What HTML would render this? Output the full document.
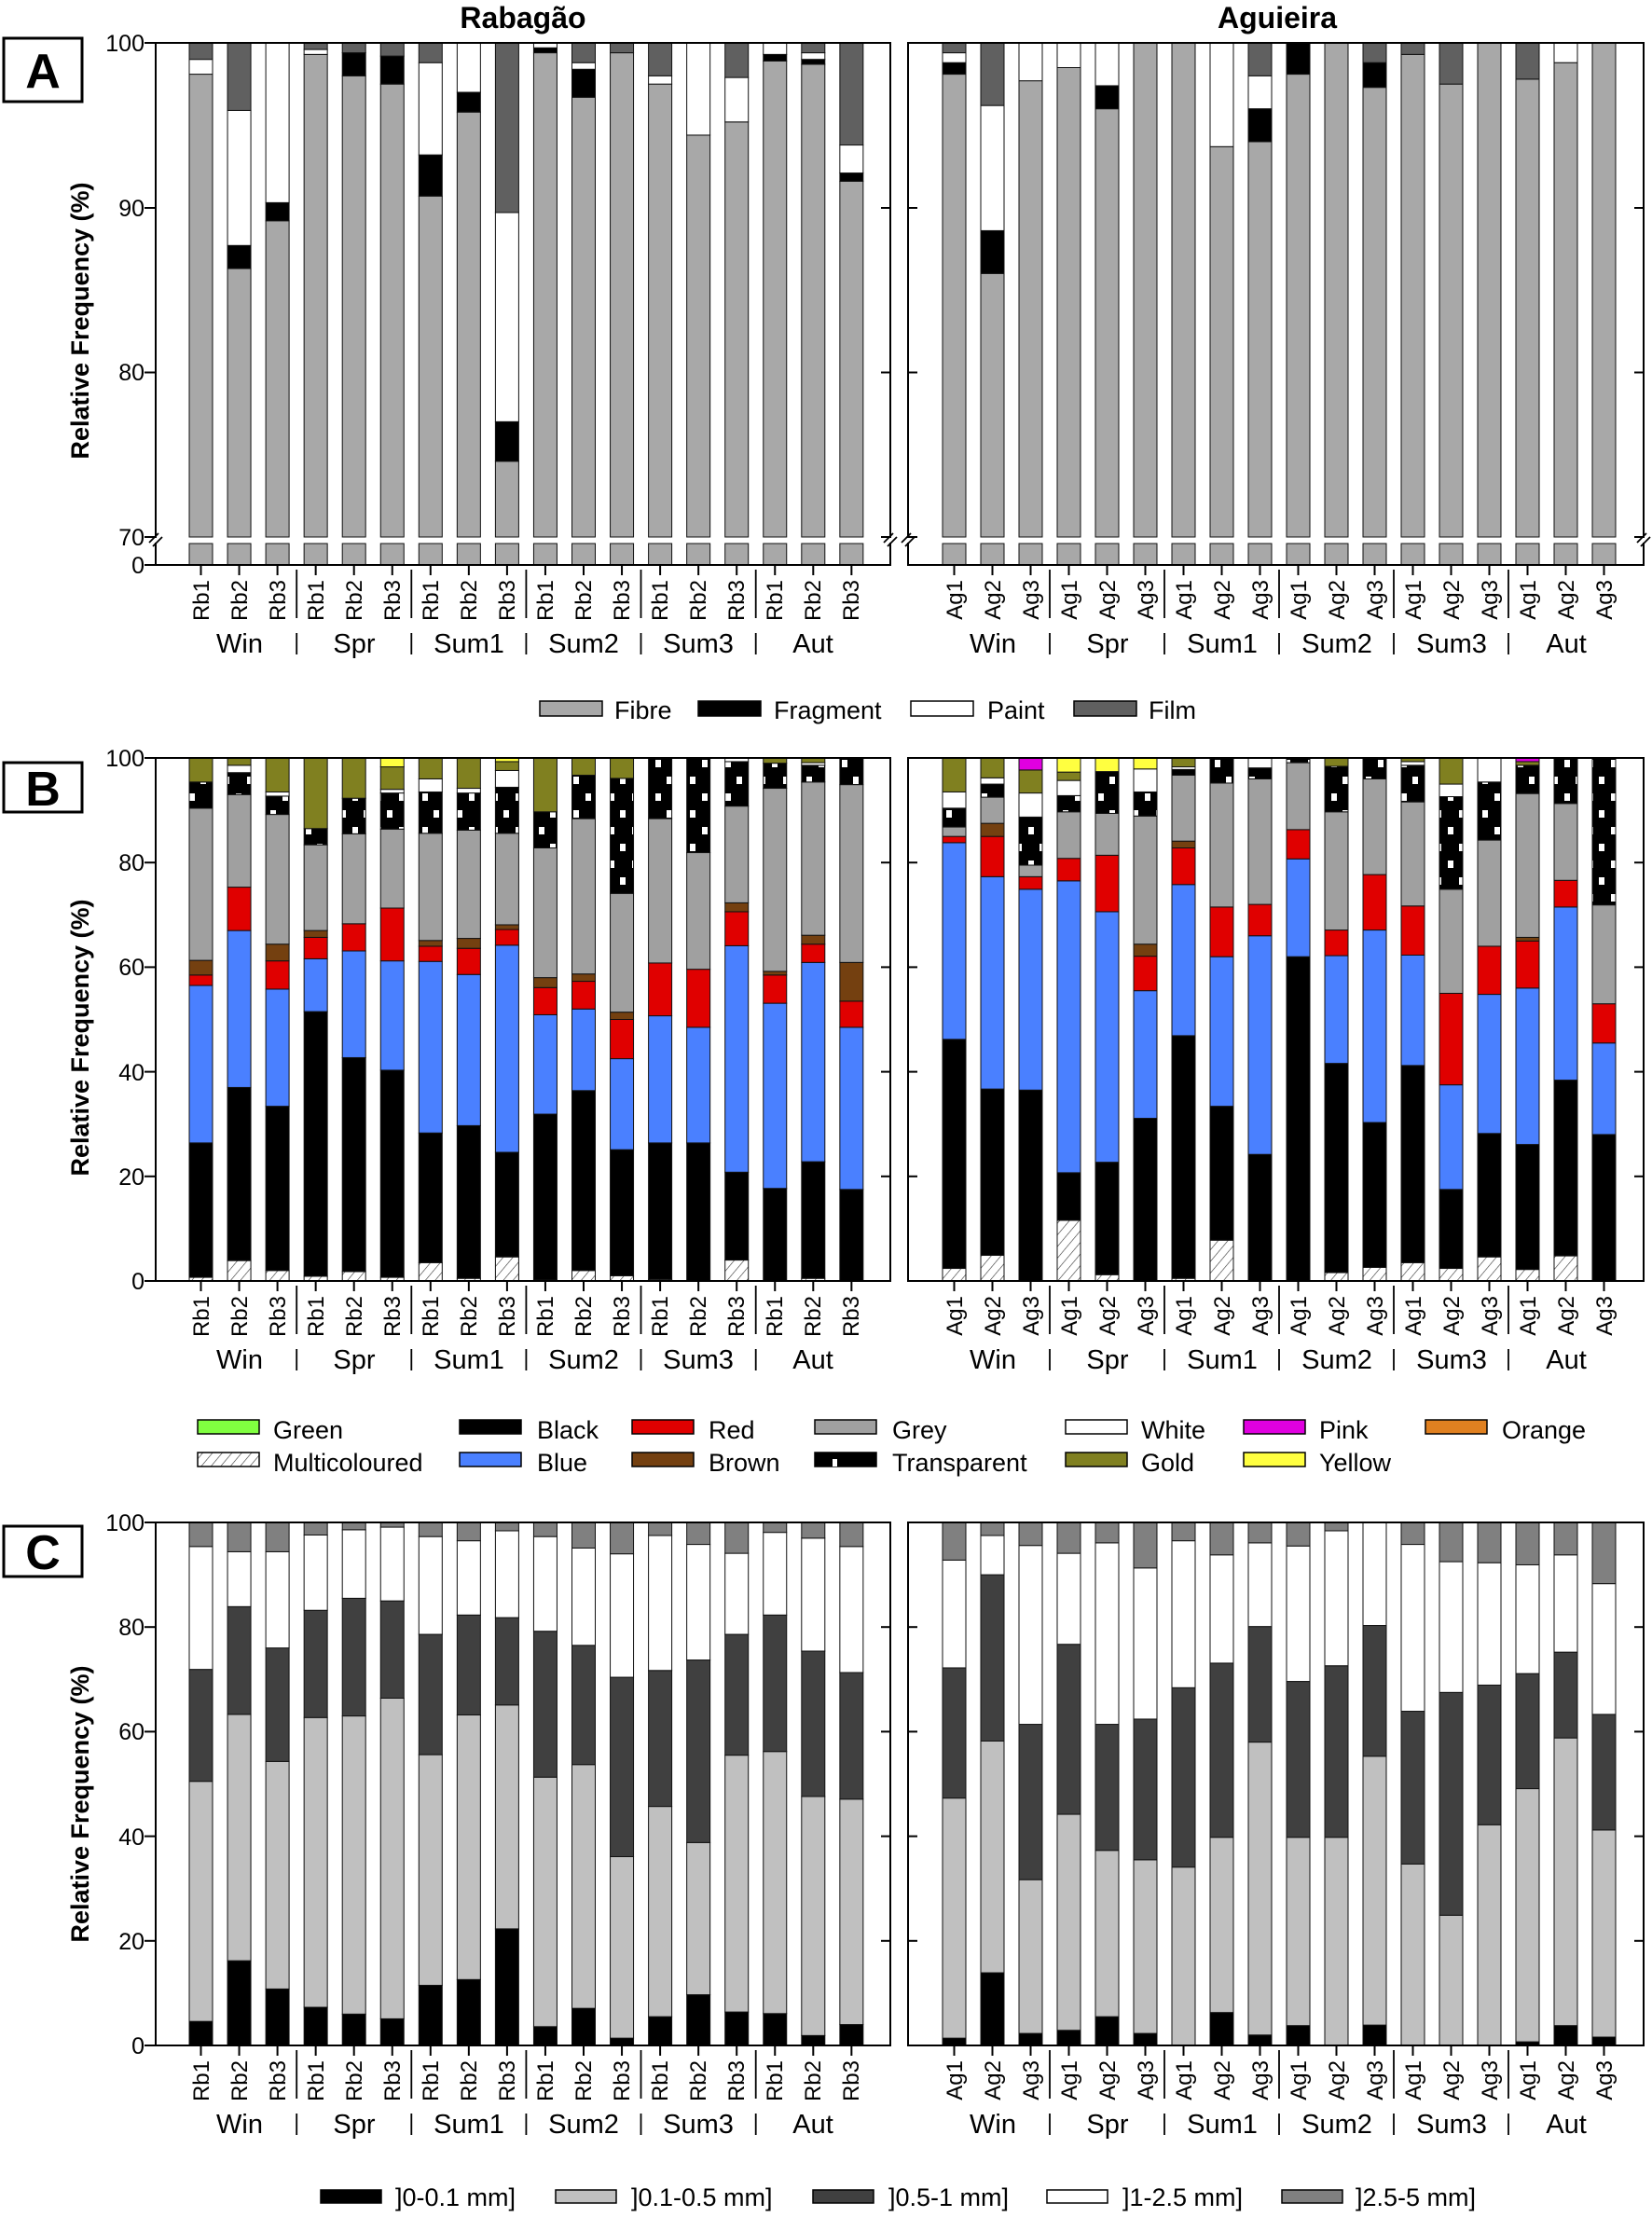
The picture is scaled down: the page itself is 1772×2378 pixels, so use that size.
<!DOCTYPE html>
<html><head><meta charset="utf-8"><style>
html,body{margin:0;padding:0;background:#fff}
svg{display:block}
text{font-family:"Liberation Sans",Arial,sans-serif;fill:#000}
.xl{font-size:24px}
.gl{font-size:29px}
.yt{font-size:25px}
.lg{font-size:27px}
.tt{font-size:32px;font-weight:bold}
.yl{font-size:27px;font-weight:bold}
.pl{font-size:52px;font-weight:bold}
</style></head><body>
<svg id="s" xmlns="http://www.w3.org/2000/svg" width="1772" height="2378" viewBox="0 0 1772 2378">
<defs>
<pattern id="tp" patternUnits="userSpaceOnUse" width="25" height="36" x="0" y="0">
<rect width="25" height="36" fill="#000"/>
<rect x="15" y="5" width="6" height="8" fill="#fff"/>
<rect x="3" y="23" width="6" height="8" fill="#fff"/>
</pattern>
<pattern id="hp" patternUnits="userSpaceOnUse" width="8" height="8" patternTransform="rotate(40)">
<rect width="8" height="8" fill="#fff"/>
<line x1="0" y1="0" x2="0" y2="8" stroke="#333" stroke-width="1.2"/>
</pattern>
</defs>
<g id="bars"></g>
<g id="frames" fill="none" stroke="#000" stroke-width="2"></g>

<!-- titles -->
<text class="tt" x="561" y="30" text-anchor="middle">Rabagão</text>
<text class="tt" x="1370" y="30" text-anchor="middle">Aguieira</text>

<!-- panel letters -->
<rect x="4" y="41" width="84" height="68" fill="#fff" stroke="#000" stroke-width="3"/>
<text class="pl" x="46" y="94" text-anchor="middle">A</text>
<rect x="4" y="818" width="84" height="53" fill="#fff" stroke="#000" stroke-width="3"/>
<text class="pl" x="46" y="864" text-anchor="middle">B</text>
<rect x="4" y="1637" width="84" height="54" fill="#fff" stroke="#000" stroke-width="3"/>
<text class="pl" x="46" y="1683" text-anchor="middle">C</text>

<!-- y titles -->
<text class="yl" transform="translate(95,344) rotate(-90)" text-anchor="middle">Relative Frequency (%)</text>
<text class="yl" transform="translate(95,1113) rotate(-90)" text-anchor="middle">Relative Frequency (%)</text>
<text class="yl" transform="translate(95,1935) rotate(-90)" text-anchor="middle">Relative Frequency (%)</text>

<!-- y tick labels A -->
<g class="yt" text-anchor="end">
<text x="155" y="55">100</text><text x="155" y="232">90</text><text x="155" y="408">80</text><text x="155" y="585">70</text><text x="155" y="615">0</text>
</g>
<!-- y tick labels B -->
<g class="yt" text-anchor="end">
<text x="155" y="822">100</text><text x="155" y="934">80</text><text x="155" y="1046">60</text><text x="155" y="1159">40</text><text x="155" y="1271">20</text><text x="155" y="1383">0</text>
</g>
<!-- y tick labels C -->
<g class="yt" text-anchor="end">
<text x="155" y="1642">100</text><text x="155" y="1754">80</text><text x="155" y="1866">60</text><text x="155" y="1979">40</text><text x="155" y="2091">20</text><text x="155" y="2203">0</text>
</g>

<!-- x labels panel A (bottom 606) -->
<g transform="translate(0,622)">
<g class="xl" transform="rotate(-90)" text-anchor="end">
<text x="0" y="224">Rb1</text><text x="0" y="265">Rb2</text><text x="0" y="306">Rb3</text><text x="0" y="347">Rb1</text><text x="0" y="388">Rb2</text><text x="0" y="429">Rb3</text><text x="0" y="470">Rb1</text><text x="0" y="511">Rb2</text><text x="0" y="552">Rb3</text><text x="0" y="593">Rb1</text><text x="0" y="634">Rb2</text><text x="0" y="675">Rb3</text><text x="0" y="716">Rb1</text><text x="0" y="757">Rb2</text><text x="0" y="798">Rb3</text><text x="0" y="839">Rb1</text><text x="0" y="880">Rb2</text><text x="0" y="921">Rb3</text>
<text x="0" y="1032">Ag1</text><text x="0" y="1073">Ag2</text><text x="0" y="1114">Ag3</text><text x="0" y="1155">Ag1</text><text x="0" y="1196">Ag2</text><text x="0" y="1237">Ag3</text><text x="0" y="1278">Ag1</text><text x="0" y="1319">Ag2</text><text x="0" y="1360">Ag3</text><text x="0" y="1401">Ag1</text><text x="0" y="1442">Ag2</text><text x="0" y="1483">Ag3</text><text x="0" y="1524">Ag1</text><text x="0" y="1565">Ag2</text><text x="0" y="1606">Ag3</text><text x="0" y="1647">Ag1</text><text x="0" y="1688">Ag2</text><text x="0" y="1729">Ag3</text>
</g>
<g class="gl" text-anchor="middle">
<text x="257" y="78">Win</text><text x="380" y="78">Spr</text><text x="503" y="78">Sum1</text><text x="626" y="78">Sum2</text><text x="749" y="78">Sum3</text><text x="872" y="78">Aut</text>
<text x="1065" y="78">Win</text><text x="1188" y="78">Spr</text><text x="1311" y="78">Sum1</text><text x="1434" y="78">Sum2</text><text x="1557" y="78">Sum3</text><text x="1680" y="78">Aut</text>
</g>
</g>
<!-- x labels panel B (bottom 1374) -->
<g transform="translate(0,1390)">
<g class="xl" transform="rotate(-90)" text-anchor="end">
<text x="0" y="224">Rb1</text><text x="0" y="265">Rb2</text><text x="0" y="306">Rb3</text><text x="0" y="347">Rb1</text><text x="0" y="388">Rb2</text><text x="0" y="429">Rb3</text><text x="0" y="470">Rb1</text><text x="0" y="511">Rb2</text><text x="0" y="552">Rb3</text><text x="0" y="593">Rb1</text><text x="0" y="634">Rb2</text><text x="0" y="675">Rb3</text><text x="0" y="716">Rb1</text><text x="0" y="757">Rb2</text><text x="0" y="798">Rb3</text><text x="0" y="839">Rb1</text><text x="0" y="880">Rb2</text><text x="0" y="921">Rb3</text>
<text x="0" y="1032">Ag1</text><text x="0" y="1073">Ag2</text><text x="0" y="1114">Ag3</text><text x="0" y="1155">Ag1</text><text x="0" y="1196">Ag2</text><text x="0" y="1237">Ag3</text><text x="0" y="1278">Ag1</text><text x="0" y="1319">Ag2</text><text x="0" y="1360">Ag3</text><text x="0" y="1401">Ag1</text><text x="0" y="1442">Ag2</text><text x="0" y="1483">Ag3</text><text x="0" y="1524">Ag1</text><text x="0" y="1565">Ag2</text><text x="0" y="1606">Ag3</text><text x="0" y="1647">Ag1</text><text x="0" y="1688">Ag2</text><text x="0" y="1729">Ag3</text>
</g>
<g class="gl" text-anchor="middle">
<text x="257" y="78">Win</text><text x="380" y="78">Spr</text><text x="503" y="78">Sum1</text><text x="626" y="78">Sum2</text><text x="749" y="78">Sum3</text><text x="872" y="78">Aut</text>
<text x="1065" y="78">Win</text><text x="1188" y="78">Spr</text><text x="1311" y="78">Sum1</text><text x="1434" y="78">Sum2</text><text x="1557" y="78">Sum3</text><text x="1680" y="78">Aut</text>
</g>
</g>
<!-- x labels panel C (bottom 2194) -->
<g transform="translate(0,2210)">
<g class="xl" transform="rotate(-90)" text-anchor="end">
<text x="0" y="224">Rb1</text><text x="0" y="265">Rb2</text><text x="0" y="306">Rb3</text><text x="0" y="347">Rb1</text><text x="0" y="388">Rb2</text><text x="0" y="429">Rb3</text><text x="0" y="470">Rb1</text><text x="0" y="511">Rb2</text><text x="0" y="552">Rb3</text><text x="0" y="593">Rb1</text><text x="0" y="634">Rb2</text><text x="0" y="675">Rb3</text><text x="0" y="716">Rb1</text><text x="0" y="757">Rb2</text><text x="0" y="798">Rb3</text><text x="0" y="839">Rb1</text><text x="0" y="880">Rb2</text><text x="0" y="921">Rb3</text>
<text x="0" y="1032">Ag1</text><text x="0" y="1073">Ag2</text><text x="0" y="1114">Ag3</text><text x="0" y="1155">Ag1</text><text x="0" y="1196">Ag2</text><text x="0" y="1237">Ag3</text><text x="0" y="1278">Ag1</text><text x="0" y="1319">Ag2</text><text x="0" y="1360">Ag3</text><text x="0" y="1401">Ag1</text><text x="0" y="1442">Ag2</text><text x="0" y="1483">Ag3</text><text x="0" y="1524">Ag1</text><text x="0" y="1565">Ag2</text><text x="0" y="1606">Ag3</text><text x="0" y="1647">Ag1</text><text x="0" y="1688">Ag2</text><text x="0" y="1729">Ag3</text>
</g>
<g class="gl" text-anchor="middle">
<text x="257" y="78">Win</text><text x="380" y="78">Spr</text><text x="503" y="78">Sum1</text><text x="626" y="78">Sum2</text><text x="749" y="78">Sum3</text><text x="872" y="78">Aut</text>
<text x="1065" y="78">Win</text><text x="1188" y="78">Spr</text><text x="1311" y="78">Sum1</text><text x="1434" y="78">Sum2</text><text x="1557" y="78">Sum3</text><text x="1680" y="78">Aut</text>
</g>
</g>

<!-- Legend A -->
<g class="lg">
<rect x="579" y="752" width="67" height="16" fill="#a8a8a8" stroke="#000" stroke-width="1.5"/><text x="659" y="771">Fibre</text>
<rect x="749" y="752" width="67" height="16" fill="#000" stroke="#000" stroke-width="1.5"/><text x="830" y="771">Fragment</text>
<rect x="977" y="752" width="67" height="16" fill="#fff" stroke="#000" stroke-width="1.5"/><text x="1059" y="771">Paint</text>
<rect x="1152" y="752" width="67" height="16" fill="#606060" stroke="#000" stroke-width="1.5"/><text x="1232" y="771">Film</text>
</g>
<!-- Legend B -->
<g class="lg">
<rect x="212" y="1523" width="66" height="15" fill="#80ff40" stroke="#000" stroke-width="1.5"/><text x="293" y="1543">Green</text>
<rect x="493" y="1523" width="66" height="15" fill="#000" stroke="#000" stroke-width="1.5"/><text x="576" y="1543">Black</text>
<rect x="678" y="1523" width="66" height="15" fill="#e00000" stroke="#000" stroke-width="1.5"/><text x="760" y="1543">Red</text>
<rect x="874" y="1523" width="66" height="15" fill="#a0a0a0" stroke="#000" stroke-width="1.5"/><text x="957" y="1543">Grey</text>
<rect x="1143" y="1523" width="66" height="15" fill="#fff" stroke="#000" stroke-width="1.5"/><text x="1224" y="1543">White</text>
<rect x="1334" y="1523" width="66" height="15" fill="#e000e0" stroke="#000" stroke-width="1.5"/><text x="1415" y="1543">Pink</text>
<rect x="1529" y="1523" width="66" height="15" fill="#e08020" stroke="#000" stroke-width="1.5"/><text x="1611" y="1543">Orange</text>
<rect x="212" y="1558" width="66" height="15" fill="url(#hp)" stroke="#000" stroke-width="1.5"/><text x="293" y="1578">Multicoloured</text>
<rect x="493" y="1558" width="66" height="15" fill="#4a80ff" stroke="#000" stroke-width="1.5"/><text x="576" y="1578">Blue</text>
<rect x="678" y="1558" width="66" height="15" fill="#744010" stroke="#000" stroke-width="1.5"/><text x="760" y="1578">Brown</text>
<rect x="874" y="1558" width="66" height="15" fill="#000" stroke="#000" stroke-width="1.5"/><rect x="893" y="1565" width="5" height="8" fill="#fff"/><text x="957" y="1578">Transparent</text>
<rect x="1143" y="1558" width="66" height="15" fill="#808020" stroke="#000" stroke-width="1.5"/><text x="1224" y="1578">Gold</text>
<rect x="1334" y="1558" width="66" height="15" fill="#ffff40" stroke="#000" stroke-width="1.5"/><text x="1415" y="1578">Yellow</text>
</g>
<!-- Legend C -->
<g class="lg">
<rect x="344" y="2349" width="65" height="14" fill="#000" stroke="#000" stroke-width="1.5"/><text x="424" y="2366">]0-0.1 mm]</text>
<rect x="596" y="2349" width="65" height="14" fill="#c0c0c0" stroke="#000" stroke-width="1.5"/><text x="677" y="2366">]0.1-0.5 mm]</text>
<rect x="872" y="2349" width="65" height="14" fill="#404040" stroke="#000" stroke-width="1.5"/><text x="953" y="2366">]0.5-1 mm]</text>
<rect x="1123" y="2349" width="65" height="14" fill="#fff" stroke="#000" stroke-width="1.5"/><text x="1204" y="2366">]1-2.5 mm]</text>
<rect x="1375" y="2349" width="65" height="14" fill="#808080" stroke="#000" stroke-width="1.5"/><text x="1454" y="2366">]2.5-5 mm]</text>
</g>
</svg>
<script>
(function(){
var NS="http://www.w3.org/2000/svg";
var B=document.getElementById("bars"),FR=document.getElementById("frames");
function el(p,n,a){var e=document.createElementNS(NS,n);for(var k in a)e.setAttribute(k,a[k]);p.appendChild(e);return e;}
var BW=25;
function bx(side,i){return side?1011+41.0*i:203+41.05*i;}
var CA={F:"#a8a8a8",K:"#000",P:"#fff",M:"#606060"};
var CB={m:"url(#hp)",k:"#000",b:"#4a80ff",r:"#e00000",n:"#744010",g:"#a0a0a0",t:"url(#tp)",w:"#fff",o:"#808020",y:"#ffff40",p:"#e000e0"};
var CC={a:"#000",b:"#c0c0c0",c:"#404040",d:"#fff",e:"#808080"};
function draw(data,side,cols,yOf,base){
 for(var i=0;i<data.length;i++){var x=bx(side,i),prev=base;
  var segs=data[i];
  for(var j=0;j<segs.length;j++){var c=segs[j][0],v=segs[j][1];
   var y1=yOf(prev),y2=yOf(v);
   if(y1-y2>0.05)el(B,"rect",{x:x,y:y2,width:BW,height:y1-y2,fill:cols[c],stroke:"#111","stroke-width":1});
   prev=v;}
 }
}
function parse(s){return s.split(";").map(function(b){return b.split(",").map(function(p){return [p[0],parseFloat(p.slice(1))];});});}
// Panel A
var yA=function(v){return v<=70?576:46+(100-v)*17.667;};
var AL=parse("F98.1,P99,M100;F86.3,K87.7,P95.9,M100;F89.2,K90.3,P100;F99.3,P99.6,M100;F98,K99.4,M100;F97.5,K99.2,M100;F90.7,K93.2,P98.8,M100;F95.8,K97,P100;F74.6,K77,P89.7,M100;F99.4,K99.7,P100;F96.7,K98.4,P98.8,M100;F99.4,M100;F97.5,P98,M100;F94.4,P100;F95.2,P97.9,M100;F98.9,K99.3,P100;F98.7,K99,P99.4,M100;F91.6,K92.1,P93.8,M100");
var AR=parse("F98.1,K98.8,P99.4,M100;F86,K88.6,P96.2,M100;F97.7,P100;F98.5,P100;F96,K97.4,P100;F100;F100;F93.7,P100;F94,K96,P98,M100;F98.1,K100;F100;F97.3,K98.8,M100;F99.3,M100;F97.5,M100;F100;F97.8,M100;F98.8,P100;F100");
draw(AL,0,CA,yA,70);draw(AR,1,CA,yA,70);
for(var i=0;i<18;i++){[0,1].forEach(function(s){el(B,"rect",{x:bx(s,i),y:583,width:BW,height:23,fill:"#a8a8a8",stroke:"#111","stroke-width":1});});}
// Panel B
var yB=function(v){return 1374-v*5.61;};
var BL=parse("m0.7,k26.4,b56.5,r58.5,n61.3,g90.4,t95.4,o100;m3.9,k37,b67,r75.3,g93,t97.2,w98.6,o100;m2,k33.4,b55.8,r61.2,n64.4,g89.2,t92.7,w93.5,o100;m0.9,k51.5,b61.6,r65.7,n67,g83.4,t86.5,o100;m1.8,k42.7,b63.1,r68.3,g85.5,t92.3,o100;m0.7,k40.3,b61.2,r71.3,g86.4,t93.3,w94,o98.3,y100;m3.5,k28.3,b61.1,r64,n65.1,g85.6,t93.5,w96,o100;m0.5,k29.7,b58.6,r63.6,n65.5,g86.2,t93.3,w94.2,o100;m4.6,k24.6,b64.2,r67.2,n68.1,g85.6,t94.4,w97.6,o99.3,y100;m0.2,k31.9,b50.9,r56.1,n58,g82.8,t89.7,o100;m2,k36.4,b52,r57.3,n58.7,g88.4,t96.7,o100;m1,k25.1,b42.5,r50,n51.4,g74.1,t96.1,o100;m0.3,k26.4,b50.7,r60.8,g88.4,t100;k26.4,b48.5,r59.6,g81.9,t100;m4,k20.8,b64.1,r70.6,n72.3,g90.8,t99.3,w100;k17.7,b53.1,r58.5,n59.2,g94.2,t99,o100;m0.5,k22.8,b60.9,r64.4,n66.1,g95.4,t98.6,w99.1,o100;k17.5,b48.5,r53.5,n60.9,g94.9,t100");
var BR=parse("m2.4,k46.2,b83.8,r85,g86.8,t90.4,w93.5,o100;m4.9,k36.7,b77.3,r85,n87.5,g92.5,t95,w96.2,o100;k36.5,b74.9,r77.3,g79.5,t88.7,w93.3,o97.7,p100;m11.6,k20.7,b76.5,r80.8,g89.7,t92.8,w95.7,o97.3,y100;m1.2,k22.7,b70.6,r81.4,g89.4,t97.4,y100;k31.1,b55.5,r62.1,n64.4,g88.9,t93.5,w97.9,y100;m0.5,k46.9,b75.8,r82.8,n84.1,g96.7,t97.8,w98.3,o100;m7.8,k33.4,b62,r71.5,g95.2,t100;k24.2,b66,r72,g96,t98.1,w100;k62,b80.7,r86.3,g99.1,t100;m1.6,k41.6,b62.2,r67.1,g89.7,t98.4,o100;m2.6,k30.3,b67.1,r77.7,g96,t100;m3.5,k41.2,b62.3,r71.7,g91.6,t98.6,w99.3,o100;m2.4,k17.5,b37.5,r55,g74.9,t92.6,w95,o100;m4.6,k28.2,b54.8,r64,g84.3,t95.4,w100;m2.2,k26.1,b56,r65,n65.7,g93.2,t98.6,o99.3,p100;m4.8,k38.4,b71.5,r76.6,g91.3,t100;k28,b45.5,r53,g71.9,t100");
draw(BL,0,CB,yB,0);draw(BR,1,CB,yB,0);
// Panel C
var yC=function(v){return 2194-v*5.61;};
var CL=parse("a4.6,b50.5,c71.9,d95.4,e100;a16.2,b63.3,c83.9,d94.4,e100;a10.8,b54.3,c76,d94.4,e100;a7.3,b62.7,c83.2,d97.6,e100;a6,b63,c85.5,d98.6,e100;a5.1,b66.4,c85,d99.1,e100;a11.5,b55.6,c78.6,d97.3,e100;a12.6,b63.2,c82.3,d96.5,e100;a22.3,b65.1,c81.8,d98.4,e100;a3.6,b51.3,c79.2,d97.3,e100;a7.1,b53.7,c76.5,d95.1,e100;a1.4,b36.1,c70.4,d94,e100;a5.5,b45.7,c71.7,d97.5,e100;a9.7,b38.8,c73.7,d95.8,e100;a6.4,b55.5,c78.6,d94.1,e100;a6.1,b56.2,c82.3,d98.1,e100;a1.9,b47.6,c75.4,d97,e100;a4,b47.1,c71.3,d95.4,e100");
var CR=parse("a1.4,b47.3,c72.2,d92.8,e100;a13.9,b58.2,c90,d97.5,e100;a2.3,b31.7,c61.4,d95.6,e100;a2.9,b44.2,c76.7,d94.1,e100;a5.5,b37.3,c61.4,d96.1,e100;a2.3,b35.5,c62.4,d91.3,e100;b34.1,c68.4,d96.5,e100;a6.3,b39.8,c73.1,d93.8,e100;a2,b58,c80.1,d96.1,e100;a3.8,b39.8,c69.6,d95.5,e100;b39.8,c72.6,d98.4,e100;a3.9,b55.3,c80.3,d100;b34.7,c63.9,d95.8,e100;b24.9,c67.5,d92.5,e100;b42.2,c68.9,d92.3,e100;a0.7,b49.1,c71.1,d91.9,e100;a3.8,b58.8,c75.2,d93.8,e100;a1.6,b41.2,c63.3,d88.3,e100");
draw(CL,0,CC,yC,0);draw(CR,1,CC,yC,0);
// frames, ticks
function line(x1,y1,x2,y2,w){el(FR,"line",{x1:x1,y1:y1,x2:x2,y2:y2,"stroke-width":w||2});}
var panels=[[46,606],[813,1374],[1633,2194]];
panels.forEach(function(p,pi){
 var t=p[0],b=p[1];
 el(FR,"rect",{x:167,y:t,width:788,height:b-t});
 el(FR,"rect",{x:974,y:t,width:789,height:b-t});
 // y ticks
 var ys=pi==0?[46,223,399.5,576,606]:[0,20,40,60,80,100].map(function(v){return b-v*5.61;});
 ys.forEach(function(y){line(155,y,167,y);line(974,y,984,y);line(945,y,955,y);line(1753,y,1763,y);});
 for(var i=0;i<18;i++){[0,1].forEach(function(s){var cx=bx(s,i)+12.5;line(cx,b,cx,b+11);});}
 [318.2,441.3,564.4,687.5,810.7,1126,1249,1372,1495,1618].forEach(function(x){line(x,b+5,x,b+57,1.8);line(x,b+73,x,b+96,1.8);});
});
// axis breaks in A
[167,955,974,1763].forEach(function(x){
 el(FR,"rect",{x:x-8,y:577,width:16,height:5,fill:"#fff",stroke:"none"});
 line(x-7,582,x+3,572,1.8);line(x-3,586,x+7,576,1.8);
});
})();
</script>
</body></html>
